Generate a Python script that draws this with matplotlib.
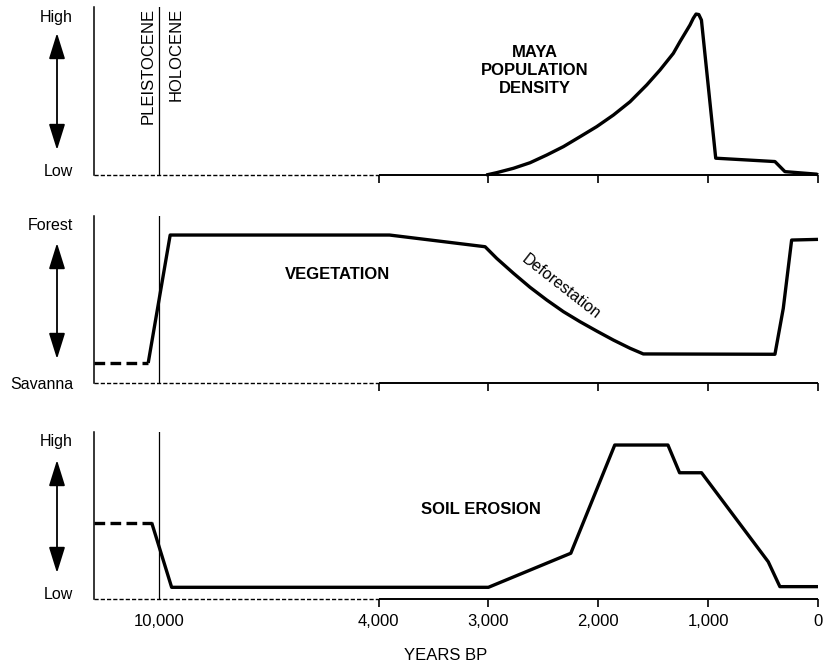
import matplotlib
matplotlib.use("Agg")
import matplotlib.pyplot as plt
import numpy as np

plt.rcParams['font.family'] = ['Liberation Sans', 'DejaVu Sans']

# years BP; values are 0 (low) .. 1 (high)
maya_years = [3020, 2924, 2772, 2621, 2469, 2317, 2166, 2014, 1862, 1711, 1559, 1438,
              1317, 1256, 1165, 1135, 1110, 1085, 1061, 931, 392, 301, 12, 0]
maya_vals = [0.0, 0.014, 0.04, 0.073, 0.119, 0.169, 0.228, 0.288, 0.357, 0.436, 0.536, 0.625,
             0.724, 0.794, 0.893, 0.933, 0.958, 0.955, 0.922, 0.10, 0.08, 0.02, 0.005, 0.0]

veg_pre_years = [11770, 10290]
veg_pre_vals = [0.12, 0.12]
veg_years = [10290, 9690, 3900, 3030, 2924, 2772, 2621, 2469, 2317, 2166, 2014, 1862,
             1711, 1590, 392, 316, 240, 0]
veg_vals = [0.12, 0.886, 0.886, 0.816, 0.746, 0.657, 0.573, 0.497, 0.427, 0.367, 0.311, 0.257,
            0.208, 0.174, 0.172, 0.447, 0.856, 0.86]

soil_pre_years = [11770, 10195]
soil_pre_vals = [0.457, 0.457]
soil_years = [10195, 9650, 3000, 2250, 1850, 1366, 1260, 1060, 453, 347, 0]
soil_vals = [0.457, 0.07, 0.07, 0.274, 0.922, 0.922, 0.756, 0.756, 0.223, 0.074, 0.074]

tick_years = [4000, 3000, 2000, 1000, 0]
tick_labels = ['4,000', '3,000', '2,000', '1,000', '0']
x_left = 11770


def fwd(t):
    t = np.asarray(t, dtype=float)
    return np.where(t <= 4000, t, 4000 + (t - 4000) / 3.0)


def inv(p):
    p = np.asarray(p, dtype=float)
    return np.where(p <= 4000, p, 4000 + (p - 4000) * 3.0)


fig = plt.figure(figsize=(8.25, 6.65), dpi=100)
W, H = 825.0, 665.0
left_px, right_px = 94, 818
panels = [(7, 175), (216, 383), (432, 599)]
axes = []
for top, base in panels:
    ax = fig.add_axes([left_px / W, 1 - base / H, (right_px - left_px) / W, (base - top) / H])
    ax.set_xscale('function', functions=(fwd, inv))
    ax.set_xlim(x_left, 0)
    ax.set_ylim(0, 1)
    for s in ['top', 'right', 'bottom']:
        ax.spines[s].set_visible(False)
    ax.spines['left'].set_linewidth(1.1)
    ax.set_yticks([])
    ax.set_xticks(tick_years)
    ax.tick_params(axis='x', direction='out', length=6, width=1.2, pad=5, labelsize=12)
    # dotted baseline before 4,000, solid after
    ax.plot([x_left, 4000], [0, 0], color='k', lw=1.0, ls=(0, (3, 1.5)), clip_on=False)
    ax.plot([4000, 0], [0, 0], color='k', lw=1.4, clip_on=False, solid_capstyle='butt')
    ax.axvline(10000, color='k', lw=0.9)
    axes.append(ax)

ax1, ax2, ax3 = axes
ax1.set_xticklabels([])
ax2.set_xticklabels([])
ax3.set_xticklabels(tick_labels)
ax3.set_xticks([10000], labels=['10,000'], minor=True)
ax3.tick_params(axis='x', which='minor', length=0, pad=11, labelsize=12)

line_kw = dict(color='k', lw=2.4, solid_joinstyle='round', solid_capstyle='butt', clip_on=False)
dash_kw = dict(color='k', lw=2.4, ls=(0, (3.2, 1.6)), clip_on=False)

# panel 1: Maya population
ax1.plot(maya_years, maya_vals, **line_kw)
ax1.text(2575, 0.62, 'MAYA\nPOPULATION\nDENSITY', ha='center', va='center',
         fontsize=12, fontweight='bold', linespacing=1.25)
ax1.text(10100, 0.995, 'PLEISTOCENE', rotation=90, ha='right', va='top', fontsize=12)
ax1.text(9720, 0.995, 'HOLOCENE', rotation=90, ha='left', va='top', fontsize=12)

# panel 2: vegetation
ax2.plot(veg_pre_years, veg_pre_vals, **dash_kw)
ax2.plot(veg_years, veg_vals, **line_kw)
ax2.text(5130, 0.647, 'VEGETATION', ha='center', va='center', fontsize=12, fontweight='bold')
ax2.text(2335, 0.575, 'Deforestation', rotation=-38, rotation_mode='anchor',
         ha='center', va='center', fontsize=11.5)

# panel 3: soil erosion
ax3.plot(soil_pre_years, soil_pre_vals, **dash_kw)
ax3.plot(soil_years, soil_vals, **line_kw)
ax3.text(3066, 0.533, 'SOIL EROSION', ha='center', va='center', fontsize=12, fontweight='bold')

# left scale labels and double arrows
side = [
    (ax1, 'High', 0.94, 'Low', 0.018, 0.845, 0.149),
    (ax2, 'Forest', 0.946, 'Savanna', -0.006, 0.838, 0.144),
    (ax3, 'High', 0.946, 'Low', 0.024, 0.832, 0.156),
]
lab_x = (73 - left_px) / (right_px - left_px)
arr_x = (57 - left_px) / (right_px - left_px)
for ax, hi, hy, lo, ly, a_top, a_bot in side:
    ax.text(lab_x, hy, hi, transform=ax.transAxes, ha='right', va='center', fontsize=11.5)
    ax.text(lab_x, ly, lo, transform=ax.transAxes, ha='right', va='center', fontsize=11.5)
    ax.annotate('', xy=(arr_x, a_top), xytext=(arr_x, a_bot),
                xycoords='axes fraction', textcoords='axes fraction', annotation_clip=False,
                arrowprops=dict(arrowstyle='<|-|>,head_length=0.8,head_width=0.25',
                                color='k', lw=1.3, shrinkA=0, shrinkB=0, mutation_scale=20))

fig.text(446 / W, 1 - 656 / H, 'YEARS BP', ha='center', va='center', fontsize=12)

fig.savefig('out.png', dpi=100)
